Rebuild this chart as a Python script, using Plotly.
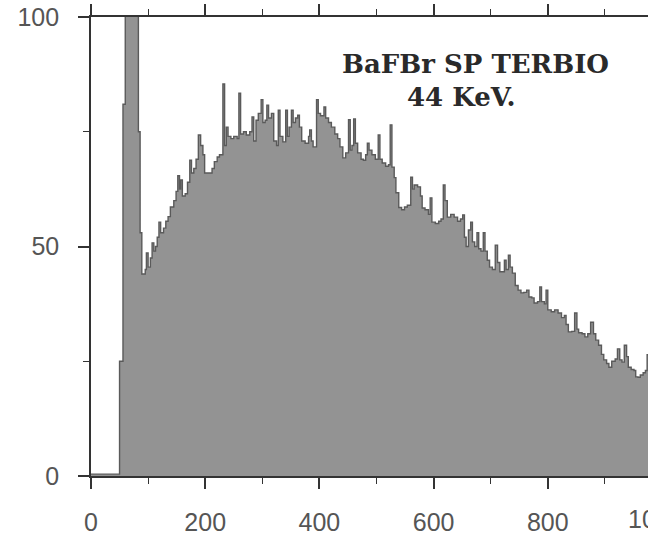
import plotly.graph_objects as go

# Histogram step profile: channel where each step starts, and its count
edge_ch = [0, 50, 56, 60, 83, 86, 89, 95, 97, 100, 104, 107, 110, 113, 116, 119, 122, 127, 131, 135,
           139, 145, 149, 152, 155, 157, 160, 165, 169, 173, 176, 180, 184, 188, 192, 196, 199, 206,
           212, 216, 221, 225, 231, 234, 237, 240, 245, 250, 256, 259, 262, 267, 272, 278, 282, 285,
           289, 293, 298, 301, 305, 308, 311, 316, 320, 325, 328, 331, 336, 341, 344, 347, 351, 354,
           358, 362, 365, 369, 375, 381, 383, 386, 389, 395, 398, 402, 408, 411, 416, 421, 427, 432,
           436, 441, 446, 451, 454, 457, 460, 463, 467, 473, 477, 481, 484, 487, 492, 498, 503, 506,
           510, 516, 521, 524, 527, 531, 534, 539, 544, 549, 554, 560, 563, 566, 572, 577, 580, 585,
           591, 594, 597, 603, 609, 613, 617, 620, 624, 630, 636, 642, 647, 651, 654, 657, 661, 665,
           668, 672, 676, 679, 683, 687, 690, 694, 698, 703, 708, 712, 716, 720, 724, 727, 731, 734,
           738, 743, 748, 753, 758, 763, 767, 772, 776, 782, 786, 789, 794, 797, 800, 806, 812, 818,
           824, 829, 832, 836, 842, 847, 851, 854, 860, 865, 870, 875, 880, 884, 889, 894, 898, 903,
           907, 912, 918, 922, 926, 930, 934, 938, 941, 946, 951, 954, 958, 962, 967, 971, 974, 977,
           1024]
counts = [0.4, 25, 81, 160, 75, 53, 44, 45, 48.6, 45.5, 47.5, 50.8, 49, 50, 52, 55.3, 53, 54, 55.5, 56.5,
          58.6, 60, 62, 65.4, 62.5, 64.5, 61, 61.5, 64, 68.8, 66, 67, 69, 74.3, 72, 70, 66, 66,
          67, 68.5, 69.5, 70, 85.4, 72, 76, 74, 73.5, 74, 73.5, 83.4, 74.5, 75, 74.3, 75, 78.2, 73,
          77.5, 79, 82, 77, 77.5, 80.8, 78, 79, 73, 72, 79.7, 74, 72.8, 79.7, 74, 76, 79.7, 77,
          78, 78.6, 76, 73, 72.5, 74, 75.4, 73, 71.7, 82, 79, 78.5, 80.4, 78, 77, 76, 74.5, 73.5,
          71.7, 69.3, 70.4, 77.6, 71, 72, 77.8, 72.5, 70.4, 69, 68.8, 70, 72.5, 71, 70, 69, 74.3, 69,
          68.2, 67.5, 67.8, 76.5, 67.3, 65, 61.7, 58.5, 58, 58.6, 59, 65.1, 62.5, 63.4, 63, 61, 58.4, 58,
          57, 60.6, 55.3, 55, 55.5, 56, 63.4, 60, 56.4, 57, 56.4, 55.5, 56, 56.9, 52, 50, 53.6, 55.3,
          51, 50, 53, 49.5, 49, 53, 49, 47, 45.5, 45, 50.3, 46.5, 44.5, 44.5, 47, 45, 48.1, 45.5,
          44.2, 41.5, 40.5, 39.9, 40, 40.5, 39, 38.8, 37.7, 38, 41.2, 38, 37.5, 40.5, 36.2, 35.8, 36.2, 35.5,
          34.5, 35, 33, 31.4, 31.5, 35.5, 32, 31.2, 31, 30.3, 31, 33.5, 31, 29.6, 28.5, 26.5, 25.3, 24.5,
          23.7, 25, 25.5, 27.7, 25.3, 24.8, 28.5, 26, 23.7, 23.2, 23, 21.6, 21.5, 22, 22.5, 23, 26.4, 24,
          24]

x_ticks = [0, 200, 400, 600, 800]
y_ticks = [0, 50, 100]
title_line1 = "BaFBr SP TERBIO"
title_line2 = "44 KeV."

AX = "#333333"
LBL = "#555555"

fig = go.Figure()
fig.add_trace(go.Scatter(
    x=edge_ch, y=counts, mode="lines", line_shape="hv",
    line=dict(color="#5a5a5a", width=1.4),
    fill="tozeroy", fillcolor="#939393", hoverinfo="skip", showlegend=False))

fig.update_layout(
    width=648, height=535,
    margin=dict(l=91, r=0, t=17, b=59),
    paper_bgcolor="white", plot_bgcolor="white",
    font=dict(family="Liberation Sans", size=25, color=LBL),
    showlegend=False,
)
fig.update_xaxes(
    range=[0, 975.5], tickvals=x_ticks, ticktext=[str(v) for v in x_ticks],
    ticks="outside", ticklen=11, tickwidth=1.5, tickcolor=AX,
    minor=dict(dtick=100, tick0=0, ticks="outside", ticklen=6, tickwidth=1.3, tickcolor=AX),
    showline=True, linecolor=AX, linewidth=1.6, mirror="allticks",
    showgrid=False, zeroline=False, ticklabelstandoff=12,
    tickfont=dict(family="Liberation Sans", size=25, color=LBL))
fig.update_yaxes(
    range=[0, 100], tickvals=y_ticks,
    ticks="outside", ticklen=11, tickwidth=1.5, tickcolor=AX,
    minor=dict(dtick=25, tick0=0, ticks="outside", ticklen=6, tickwidth=1.3, tickcolor=AX),
    showline=True, linecolor=AX, linewidth=1.6,
    showgrid=False, zeroline=False, ticklabelstandoff=14,
    tickfont=dict(family="Liberation Sans", size=25, color=LBL))

# cut-off "1000" label beyond the right edge (as in the cropped original)
fig.add_annotation(text="1000", xref="paper", yref="paper", x=1.015, y=-0.094,
                   xanchor="center", yanchor="middle", showarrow=False,
                   font=dict(family="Liberation Sans", size=25, color=LBL))

tfont = dict(family="DejaVu Serif", size=26, color="#2a2a2a", weight="bold")
fig.add_annotation(text=title_line1, xref="paper", yref="paper", x=0.447, y=0.8976,
                   xanchor="left", yanchor="middle", showarrow=False, font=tfont)
fig.add_annotation(text=title_line2, xref="paper", yref="paper", x=0.5637, y=0.8257,
                   xanchor="left", yanchor="middle", showarrow=False, font=tfont)

fig.write_html("out.html")
